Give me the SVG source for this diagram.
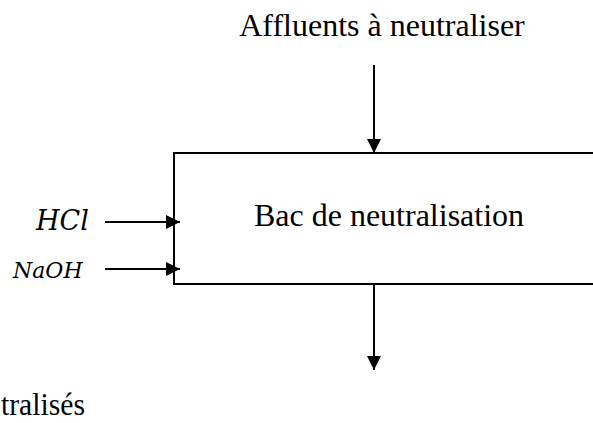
<svg xmlns="http://www.w3.org/2000/svg" width="593" height="423" viewBox="0 0 593 423">
  <style>
    .label { font-family: "Liberation Serif", "Times New Roman", serif; font-size: 32px; fill: #000; }
    .math { font-family: "DejaVu Serif", "Liberation Serif", serif; font-style: italic; fill: #000; }
    .edge { stroke: #000; stroke-width: 2; fill: none; }
    .box { stroke: #000; stroke-width: 2; fill: #fff; }
  </style>
  <defs>
    <marker id="arrow" viewBox="0 0 14 14" refX="14" refY="7" markerWidth="14" markerHeight="14" markerUnits="userSpaceOnUse" orient="auto">
      <path d="M0,0 L14,7 L0,14 Z" fill="#000"/>
    </marker>
  </defs>

  <!-- Neutralisation tank -->
  <g id="bac">
    <rect class="box" x="174" y="153" width="440" height="131"/>
    <text class="label" x="389" y="226" text-anchor="middle">Bac de neutralisation</text>
  </g>

  <!-- Inflow label -->
  <g id="affluents-entree">
    <text class="label" x="382" y="36" text-anchor="middle">Affluents à neutraliser</text>
  </g>

  <!-- Outflow label -->
  <g id="affluents-sortie">
    <text class="label" x="1" y="415" textLength="84" lengthAdjust="spacingAndGlyphs">tralisés</text>
  </g>

  <!-- Reagents -->
  <g id="hcl">
    <text class="math" x="36" y="230" font-size="27">HCl</text>
  </g>
  <g id="naoh">
    <text class="math" x="13" y="278" font-size="22">NaOH</text>
  </g>

  <!-- Connectors -->
  <g id="connectors">
    <line class="edge" x1="374" y1="65" x2="374" y2="153" marker-end="url(#arrow)"/>
    <line class="edge" x1="374" y1="284" x2="374" y2="370" marker-end="url(#arrow)"/>
    <line class="edge" x1="105" y1="222" x2="180" y2="222" marker-end="url(#arrow)"/>
    <line class="edge" x1="105" y1="269" x2="180" y2="269" marker-end="url(#arrow)"/>
  </g>
</svg>
